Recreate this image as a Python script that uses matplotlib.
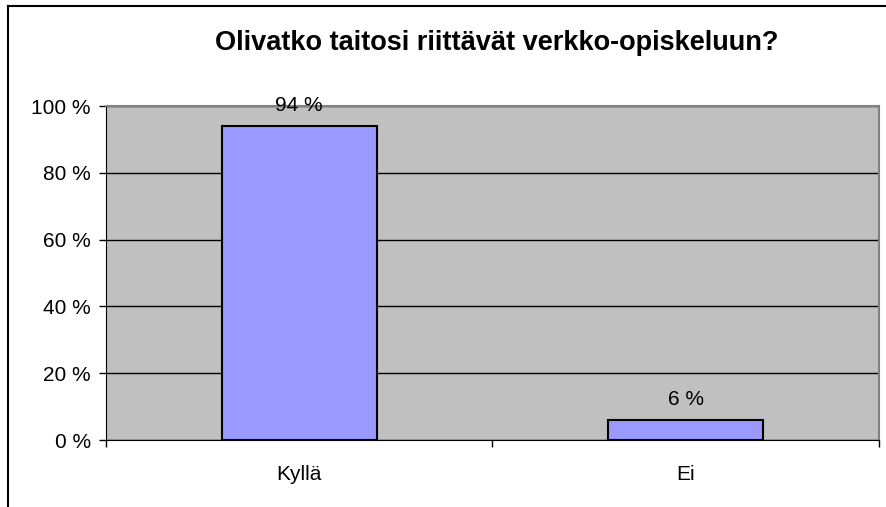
import numpy as np
import matplotlib.pyplot as plt
from matplotlib.ticker import FuncFormatter

categories = ["Kyllä", "Ei"]
values = [94, 6]
title = "Olivatko taitosi riittävät verkko-opiskeluun?"

plt.rcParams['font.family'] = ['Liberation Sans', 'DejaVu Sans']

fig = plt.figure(figsize=(8.87, 5.07), dpi=100)
# outer chart frame (left and top visible only)
fig.add_artist(plt.Line2D([8/887, 8/887], [0, 1 - 6/507], color='black', lw=1.5))
fig.add_artist(plt.Line2D([8/887, 1], [1 - 6/507, 1 - 6/507], color='black', lw=1.5))

ax = fig.add_axes([106/887, 1 - 440/507, (879-106)/887, (440-106)/507])
ax.set_facecolor('#C0C0C0')

x = np.arange(len(categories))
bars = ax.bar(x, values, width=0.4, color='#9999FF', edgecolor='black', linewidth=1.5, zorder=3)
ax.set_xlim(-0.5, len(categories) - 0.5)
ax.set_ylim(0, 100)

ax.set_yticks(np.arange(0, 101, 20))
ax.yaxis.set_major_formatter(FuncFormatter(lambda v, p: "%d %%" % v))
ax.yaxis.grid(True, color='black', lw=1, zorder=1)
ax.set_xticks(x)
ax.set_xticklabels(categories)
ax.set_xticks([-0.5, 0.5, 1.5], minor=True)
ax.tick_params(axis='x', which='major', length=0, pad=18, labelsize=15)
ax.tick_params(axis='x', which='minor', length=5, width=1, direction='out')
ax.tick_params(axis='y', length=5, width=1, direction='out', pad=6, labelsize=15)

for s in ['top', 'right']:
    ax.spines[s].set_color('#808080')
    ax.spines[s].set_linewidth(1.5)
ax.spines['left'].set_color('black')
ax.spines['bottom'].set_color('black')

for b, v in zip(bars, values):
    ax.annotate("%d %%" % v, (b.get_x() + b.get_width() / 2, v), xytext=(0, 15),
                textcoords='offset points', ha='center', va='center', fontsize=15)

fig.text(497/887, 1 - 43/507, title, ha='center', va='center', fontsize=19.5, fontweight='bold')

fig.savefig("out.png", dpi=100)
